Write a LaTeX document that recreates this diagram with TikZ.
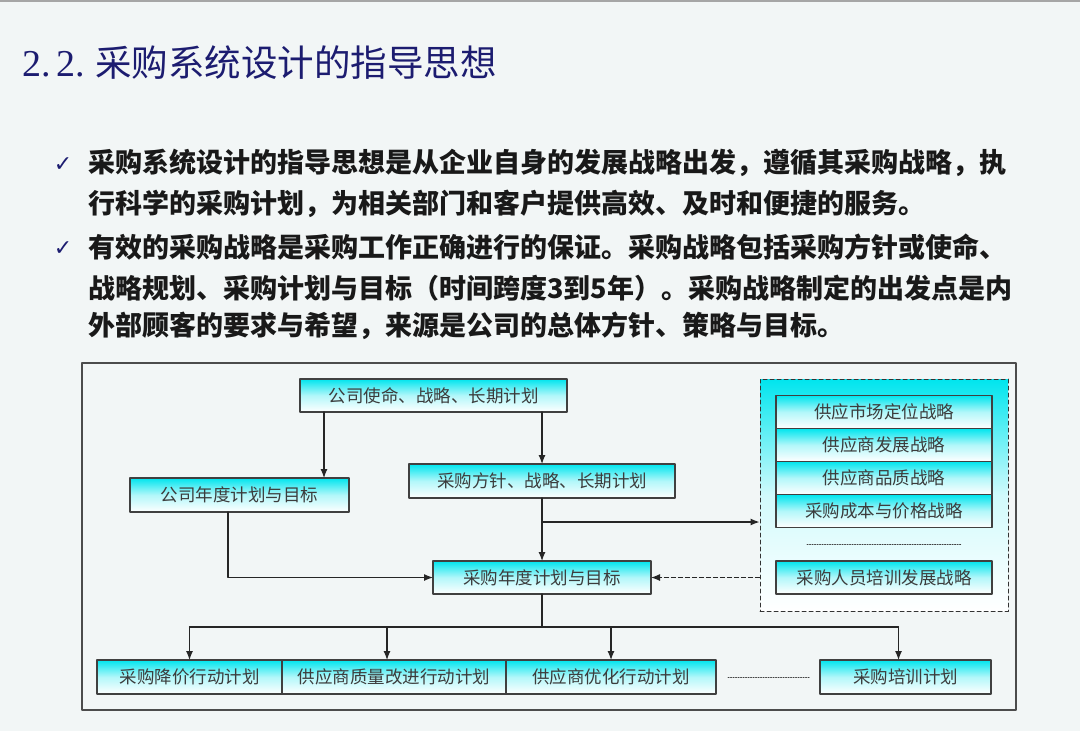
\documentclass[tikz,border=0pt]{standalone}
\usepackage{fontspec}
\setmainfont{Noto Sans CJK SC}
\newfontfamily\symfont{DejaVu Sans}
\newfontfamily\latinserif{Liberation Serif}
\usetikzlibrary{arrows.meta,calc,positioning}

\definecolor{pagebg}{RGB}{242,246,246}
\definecolor{titleblue}{RGB}{28,28,112}
\definecolor{boxcyan}{RGB}{0,229,238}
\definecolor{boxtext}{RGB}{60,60,60}

\tikzset{
  planbox/.style={draw=black!75, line width=1.1pt, top color=boxcyan, bottom color=white, middle color=boxcyan!30,
    inner sep=0pt, outer sep=0pt, text=boxtext, font=\fontsize{17.5}{20}\selectfont},
  flow/.style={draw=black!85, line width=1.2pt, -{Latex[length=9pt,width=7pt]}},
  bullettext/.style={anchor=west, inner sep=0pt, text=black!90, font=\fontsize{27}{30}\selectfont\bfseries},
  tick/.style={inner sep=0pt, text=titleblue, font=\symfont\fontsize{22}{22}\selectfont},
  dots/.style={black!75, line width=1pt, dash pattern=on 1pt off 1.5pt},
}

\begin{document}
\begin{tikzpicture}[x=1pt, y=-1pt, line cap=round, line join=round]
            % page
            \fill[pagebg] (0,0) rectangle (1080,731);
            \useasboundingbox (0,0) rectangle (1080,731);
            \draw[black!35, line width=3pt] (0,0) -- (1080,0);

            \node[anchor=west, inner sep=0pt, text=titleblue, font=\fontsize{36.5}{40}\selectfont] (title) at (22,63)
                {{\latinserif\fontsize{38}{40}\selectfont 2.\kern6pt 2.\kern10pt}采购系统设计的指导思想};

            % bullets
            \node[tick] (tickA) at (63,165) {✓};
            \node[bullettext] (lineA) at (88,163) {采购系统设计的指导思想是从企业自身的发展战略出发，遵循其采购战略，执};
            \node[bullettext] (lineB) at (88,204) {行科学的采购计划，为相关部门和客户提供高效、及时和便捷的服务。};
            \node[tick] (tickB) at (63,249) {✓};
            \node[bullettext] (lineC) at (88,247) {有效的采购战略是采购工作正确进行的保证。采购战略包括采购方针或使命、};
            \node[bullettext] (lineD) at (88,288) {战略规划、采购计划与目标（时间跨度3到5年）。采购战略制定的出发点是内};
            \node[bullettext] (lineE) at (88,326) {外部顾客的要求与希望，来源是公司的总体方针、策略与目标。};

            % diagram frame
            \draw[black!70, line width=2pt] (82,363) rectangle (1016,710);

            \node[planbox, minimum width=267, minimum height=33] (mission) at (433.5,395.5) {公司使命、战略、长期计划};
            \node[planbox, minimum width=219, minimum height=34] (corpAnnual) at (239.5,495) {公司年度计划与目标};
            \node[planbox, minimum width=266, minimum height=34] (purPolicy) at (542,481) {采购方针、战略、长期计划};
            \node[planbox, minimum width=218, minimum height=33] (purAnnual) at (542,577.5) {采购年度计划与目标};

            % strategy group
            \node[draw=black!80, line width=1pt, dash pattern=on 4pt off 3pt, top color=boxcyan, bottom color=white,
                  middle color=boxcyan!18, minimum width=248, minimum height=232, inner sep=0pt] (stratFrame) at (884,495) {};
            \node[planbox, minimum width=216, minimum height=33] (mktStrat) at (884,412) {供应市场定位战略};
            \node[planbox, minimum width=216, minimum height=33, below=0pt of mktStrat] (supDevStrat) {供应商发展战略};
            \node[planbox, minimum width=216, minimum height=33, below=0pt of supDevStrat] (qualStrat) {供应商品质战略};
            \node[planbox, minimum width=216, minimum height=33, below=0pt of qualStrat] (costStrat) {采购成本与价格战略};
            \node[planbox, minimum width=216, minimum height=33] (trainStrat) at (884,577.5) {采购人员培训发展战略};
            \draw[dots] (807,544) -- (962,544);

            % action plans
            \node[planbox, minimum width=185, minimum height=34] (cutCost) at (189.5,677) {采购降价行动计划};
            \node[planbox, minimum width=224, minimum height=34, right=0pt of cutCost] (supQual) {供应商质量改进行动计划};
            \node[planbox, minimum width=210, minimum height=34, right=0pt of supQual] (supOpt) {供应商优化行动计划};
            \node[planbox, minimum width=171, minimum height=34] (trainPlan) at (905.5,677) {采购培训计划};
            \draw[dots] (cutCost.east -| 728,0) -- (810,677);

            % connectors
            \draw[flow] ([xshift=-25pt]corpAnnual.north east |- mission.south) -- ([xshift=-25pt]corpAnnual.north east);
            \draw[flow] (mission.south -| purPolicy.north) -- (purPolicy.north);
            \draw[flow] (purPolicy.south) -- (purAnnual.north);
            \coordinate (branch) at ($(purPolicy.south)+(0,24)$);
            \draw[flow] (branch) -- (branch -| stratFrame.west);
            \draw[flow] ([xshift=-11.5pt]corpAnnual.south) |- (purAnnual.west);
            \draw[flow, dash pattern=on 4pt off 3pt] (stratFrame.west |- purAnnual.east) -- (purAnnual.east);

            \coordinate (split) at ($(purAnnual.south)+(0,33)$);
            \draw[flow, -] (purAnnual.south) -- (split);
            \draw[flow, -] (split -| cutCost.north) -- ([xshift=-7pt]trainPlan.north |- split);
            \foreach \plan/\dx in {cutCost/0, supQual/-7, supOpt/0, trainPlan/-7}
                \draw[flow] ([xshift=\dx pt]\plan.north |- split) -- ([xshift=\dx pt]\plan.north);

        \end{tikzpicture}
\end{document}
